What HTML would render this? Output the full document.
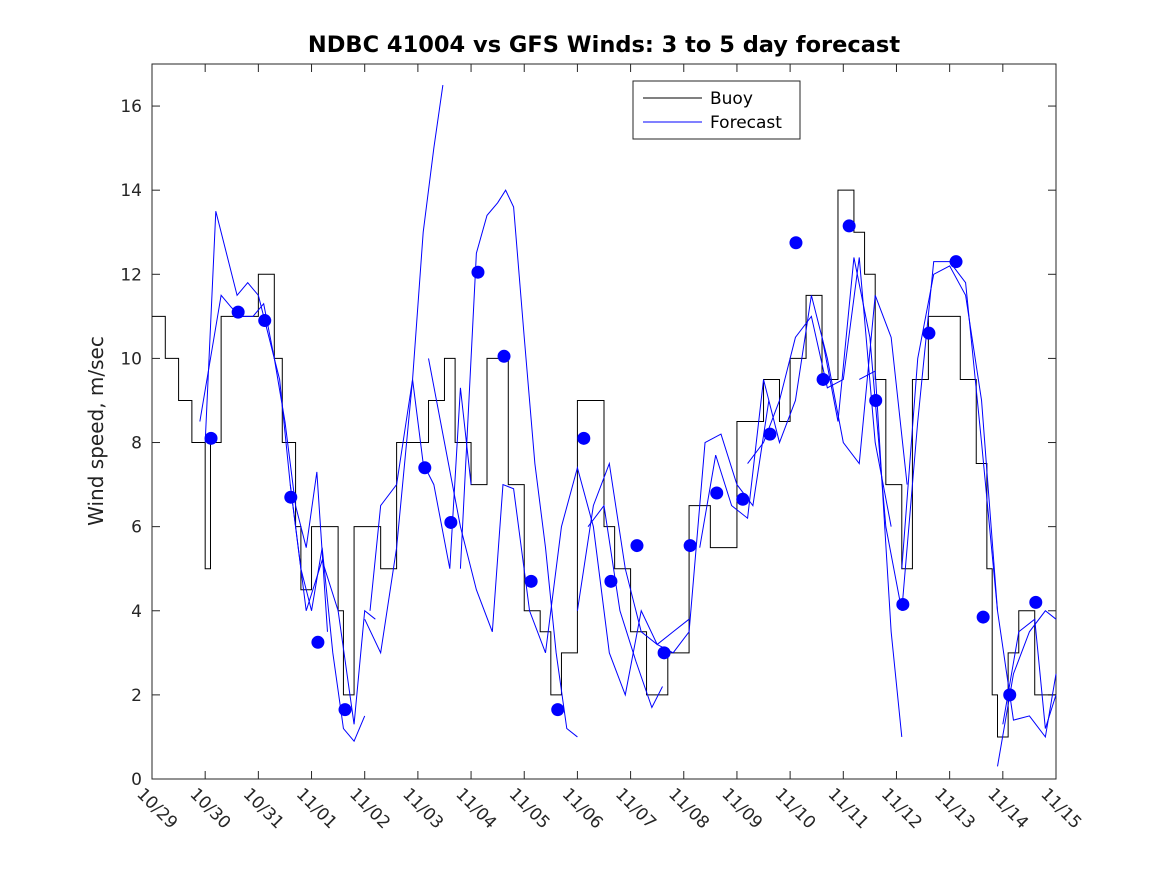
<!DOCTYPE html>
<html><head><meta charset="utf-8"><style>
body{margin:0;background:#fff;}
svg{display:block;font-family:"DejaVu Sans","Liberation Sans",sans-serif;}
</style></head><body>
<svg id="chart" width="1167" height="875" viewBox="0 0 1167 875">
<rect width="1167" height="875" fill="#fff"/>
<text x="604" y="52" text-anchor="middle" font-size="22.5" font-weight="bold" fill="#000">NDBC 41004 vs GFS Winds: 3 to 5 day forecast</text>
<text transform="translate(103,431) rotate(-90)" text-anchor="middle" font-size="20" fill="#222">Wind speed, m/sec</text>
<g id="plot"></g>
</svg>
<script>
const xTickLabels=["10/29","10/30","10/31","11/01","11/02","11/03","11/04","11/05","11/06","11/07","11/08","11/09","11/10","11/11","11/12","11/13","11/14","11/15"];
const yTicks=[0,2,4,6,8,10,12,14,16];
const buoyDays=[0,0.25,0.5,0.75,1.0,1.1,1.3,1.65,2.0,2.3,2.45,2.7,2.8,3.0,3.5,3.6,3.8,4.0,4.3,4.6,5.0,5.2,5.5,5.7,6.0,6.3,6.7,7.0,7.3,7.5,7.7,8.0,8.5,8.7,9.0,9.3,9.7,10.1,10.5,11.0,11.5,11.8,12.0,12.3,12.6,12.9,13.2,13.4,13.6,13.8,14.1,14.3,14.6,15.2,15.5,15.7,15.8,15.9,16.1,16.3,16.6];
const buoyVals=[11,10,9,8,5,8,11,11,12,10,8,6,4.5,6,4,2,6,6,5,8,8,9,10,8,7,10,7,4,3.5,2,3,9,6,5,3.5,2,3,6.5,5.5,8.5,9.5,8.5,10,11.5,9.5,14,13,12,9.5,7,5,9.5,11,9.5,7.5,5,2,1,3,4,2];
const dotDays=[1.11,1.62,2.12,2.61,3.12,3.63,5.13,5.62,6.13,6.62,7.13,7.63,8.12,8.63,9.12,9.63,10.12,10.62,11.11,11.62,12.11,12.62,13.11,13.61,14.12,14.61,15.12,15.63,16.13,16.62];
const dotVals=[8.1,11.1,10.9,6.7,3.25,1.65,7.4,6.1,12.05,10.05,4.7,1.65,8.1,4.7,5.55,3.0,5.55,6.8,6.65,8.2,12.75,9.5,13.15,9.0,4.15,10.6,12.3,3.85,2.0,4.2];
const fcDays=[
[1.0,1.2,1.4,1.6,1.8,2.0,2.2,2.4,2.6,2.8,3.0,3.2,3.4,3.6,3.8,4.0],
[0.9,1.1,1.3,1.5,1.7,1.9,2.1,2.3,2.5,2.7,2.9,3.1,3.3],
[2.6,2.9,3.2,3.5,3.8,4.0,4.2],
[4.0,4.3,4.6,4.9,5.1,5.3,5.47],
[4.1,4.3,4.6,4.9,5.1,5.3,5.6,5.8,6.0],
[5.8,6.1,6.3,6.5,6.65,6.8,7.0,7.2,7.4,7.6,7.8,8.0],
[5.2,5.5,5.8,6.1,6.4,6.6,6.8,7.1,7.4,7.7,8.0,8.3,8.6,8.9,9.2,9.5,9.8,10.1],
[8.0,8.3,8.6,8.9,9.2,9.5,9.8,10.1,10.4,10.7,11.0,11.3,11.6],
[8.2,8.5,8.8,9.1,9.4,9.6],
[10.3,10.6,10.9,11.2,11.5,11.8,12.1,12.4,12.7,13.0,13.3,13.6,13.9,14.2],
[11.2,11.5,11.8,12.1,12.4,12.7,13.0,13.3,13.6,13.9],
[12.6,12.9,13.2,13.5,13.8,14.1,14.4,14.7,15.0,15.3,15.6,15.9,16.2,16.5,16.8,17.0],
[13.3,13.6,13.9,14.1],
[14.1,14.4,14.7,15.0,15.3,15.6,15.9],
[15.9,16.2,16.5,16.8,17.0],
[16.0,16.3,16.6,16.8,17.0]];
const fcVals=[
[8,13.5,12.5,11.5,11.8,11.5,10.5,9.5,7,5,4,5.5,3,1.2,0.9,1.5],
[8.5,10,11.5,11.2,11,11,11.3,10,8.5,6.5,5.5,7.3,3.5],
[7,4,5.2,4,1.3,4,3.8],
[3.8,3,5.5,9.5,13,15,16.5],
[4,6.5,7,9.5,7.5,7,5,9.3,7],
[5,12.5,13.4,13.7,14,13.6,10.5,7.5,5.5,3,1.2,1.0],
[10,8,6,4.5,3.5,7,6.9,4,3,6,7.4,6,3,2,4,3.2,3.5,3.8],
[4,6.5,7.5,5,3.5,3.2,3,3.5,8,8.2,7,6.5,9],
[6,6.5,4,2.8,1.7,2.2],
[5.5,7.7,6.5,6.2,9.5,8,9,11.5,10,8,7.5,11.5,10.5,7],
[7.5,8,9,10.5,11,9.3,9.5,12.4,8,6],
[10.5,8.5,12.4,10.5,6,4,8.5,12.3,12.3,11.8,8,4,1.4,1.5,1.0,2.5],
[9.5,9.7,3.5,1],
[5,10,12,12.2,11.5,9,4],
[0.3,2.5,3.5,4.0,3.8],
[1.3,3.5,3.8,1.2,2]];
const L=152,R=1056,T=64,B=779;
const X=d=>L+(R-L)*d/17, Y=v=>B-(B-T)*v/17;
const NS="http://www.w3.org/2000/svg";
const g=document.getElementById('plot');
function mk(t,a){const e=document.createElementNS(NS,t);for(const k in a)e.setAttribute(k,a[k]);g.appendChild(e);return e;}
let box=mk('rect',{x:L,y:T,width:R-L,height:B-T,fill:'none',stroke:'#262626','stroke-width':1});


yTicks.forEach(v=>{
 mk('line',{x1:L,x2:L+8,y1:Y(v),y2:Y(v),stroke:'#262626'});
 mk('line',{x1:R,x2:R-8,y1:Y(v),y2:Y(v),stroke:'#262626'});
 const t=mk('text',{x:L-10,y:Y(v)+6,'text-anchor':'end','font-size':17,fill:'#262626'});
 t.textContent=v;
 
 
});
xTickLabels.forEach((s,i)=>{
 const x=X(i);
 mk('line',{x1:x,x2:x,y1:B,y2:B-8,stroke:'#262626'});
 mk('line',{x1:x,x2:x,y1:T,y2:T+8,stroke:'#262626'});
 const t=mk('text',{transform:`translate(${x-16},${B+16}) rotate(45)`,'font-size':17,fill:'#262626'});
 t.textContent=s;
 
 
});
let d='';
buoyDays.forEach((dd,i)=>{const x=X(dd),y=Y(buoyVals[i]);d+=(i?`H${x}V${y}`:`M${x},${y}`);});
d+=`H${R}`;
let bp=mk('path',{d:d,fill:'none',stroke:'#000','stroke-width':1});


fcDays.forEach((ds,j)=>{
 const p=mk('polyline',{points:ds.map((dd,i)=>X(dd)+','+Y(fcVals[j][i])).join(' '),fill:'none',stroke:'#0000ff','stroke-width':1});
 
 
});
dotDays.forEach((dd,i)=>{
 const c=mk('circle',{cx:X(dd),cy:Y(dotVals[i]),r:6.5,fill:'#0000ff'});
 
 
});
const lg=mk('g',{});


lg.innerHTML=`<rect x="633" y="81" width="167" height="58" fill="#fff" stroke="#262626"/>
<line x1="643" x2="702" y1="98" y2="98" stroke="#000"/>
<text x="710" y="104" font-size="17" fill="#000">Buoy</text>
<line x1="643" x2="702" y1="122" y2="122" stroke="#0000ff"/>
<text x="710" y="128" font-size="17" fill="#000">Forecast</text>`;
</script>
</body></html>
